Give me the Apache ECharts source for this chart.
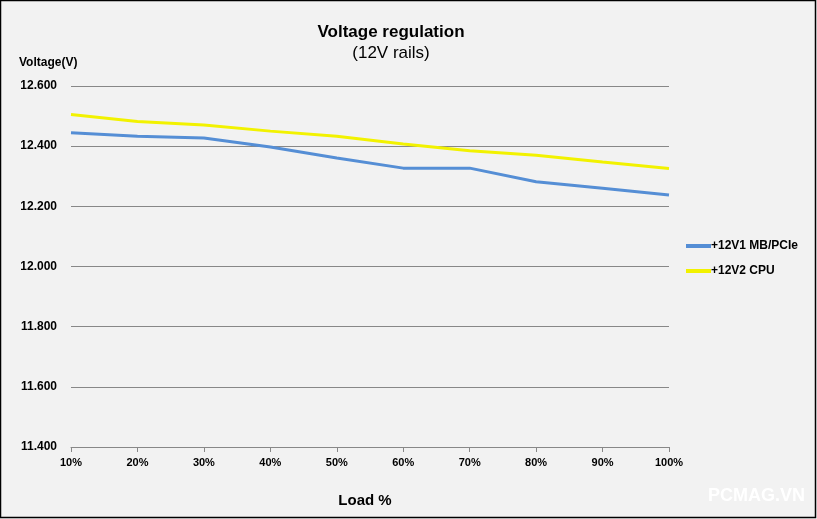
<!DOCTYPE html>
<html><head><meta charset="utf-8">
<script src="https://cdn.jsdelivr.net/npm/echarts@6/dist/echarts.min.js"></script>
<style>html,body{margin:0;padding:0;background:#f2f2f2}#c{width:817px;height:519px}</style>
</head><body><div id="c"></div>
<script>
const categories = ['10%','20%','30%','40%','50%','60%','70%','80%','90%','100%'];
const rail1 = [12.445,12.433,12.427,12.397,12.361,12.327,12.327,12.282,12.260,12.238];
const rail2 = [12.505,12.482,12.470,12.450,12.433,12.407,12.385,12.370,12.347,12.326];
const seriesNames = ['+12V1 MB/PCIe','+12V2 CPU'];
const font = 'Liberation Sans, Arial, sans-serif';
const chart = echarts.init(document.getElementById('c'));
chart.setOption({
  backgroundColor:'#f2f2f2',
  animation:false,
  title:[
    {text:'Voltage regulation',left:386,textAlign:'center',top:19,textStyle:{fontFamily:font,fontSize:17,fontWeight:'bold',color:'#000'}},
    {text:'(12V rails)',left:386,textAlign:'center',top:40,textStyle:{fontFamily:font,fontSize:17,fontWeight:'normal',color:'#000'}},
    {text:'Voltage(V)',left:14,top:52,textStyle:{fontFamily:font,fontSize:12,fontWeight:'bold',color:'#000'}},
    {text:'Load %',left:360,textAlign:'center',top:488,textStyle:{fontFamily:font,fontSize:15,fontWeight:'bold',color:'#000'}}
  ],
  legend:{orient:'vertical',left:686,top:240,padding:0,itemGap:13,itemWidth:25,itemHeight:4,icon:'rect',
    textStyle:{fontFamily:font,fontSize:12,fontWeight:'bold',color:'#000',padding:[0,0,0,-5]},
    data:seriesNames},
  grid:{left:71,right:148,top:86,bottom:72},
  xAxis:{type:'category',data:categories,boundaryGap:false,
    axisLine:{lineStyle:{color:'#888',width:1}},
    axisTick:{show:true,length:5,lineStyle:{color:'#888'}},
    axisLabel:{fontFamily:font,fontSize:11,fontWeight:'bold',color:'#000',margin:10}},
  yAxis:{type:'value',min:11.4,max:12.6,interval:0.2,
    axisLine:{show:false},axisTick:{show:false},
    splitLine:{lineStyle:{color:'#888',width:1}},
    axisLabel:{fontFamily:font,fontSize:12,fontWeight:'bold',color:'#000',margin:14,formatter:v=>v.toFixed(3)}},
  series:[
    {name:seriesNames[0],type:'line',data:rail1,showSymbol:false,symbol:'none',lineStyle:{color:'#558ed5',width:3},itemStyle:{color:'#558ed5'}},
    {name:seriesNames[1],type:'line',data:rail2,showSymbol:false,symbol:'none',lineStyle:{color:'#f2f200',width:3},itemStyle:{color:'#f2f200'}}
  ],
  graphic:[
    {type:'text',left:708,top:487,style:{text:'PCMAG.VN',fill:'#ffffff',font:'bold 18px '+font}},
    {type:'rect',shape:{x:0.5,y:0.5,width:815,height:517},style:{fill:'none',stroke:'#000',lineWidth:1.5}}
  ]
});
</script></body></html>
